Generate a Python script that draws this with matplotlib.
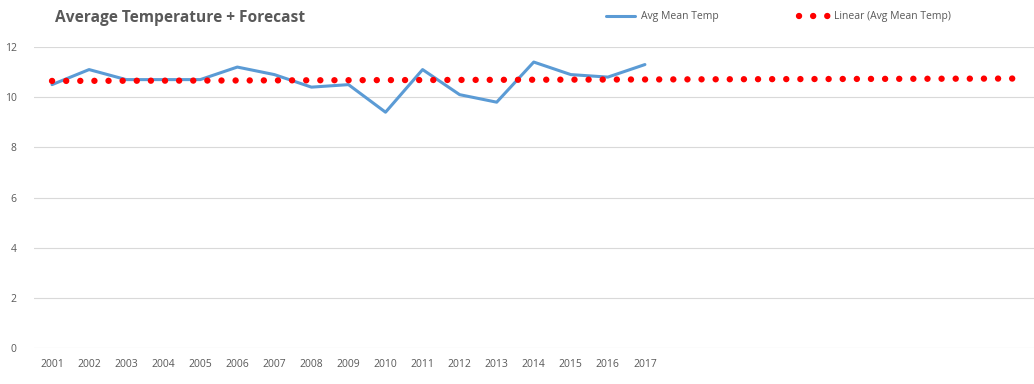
import numpy as np
import matplotlib
matplotlib.use("Agg")
import matplotlib.pyplot as plt

# data
years = ["2001", "2002", "2003", "2004", "2005", "2006", "2007", "2008", "2009",
         "2010", "2011", "2012", "2013", "2014", "2015", "2016", "2017"]
avg_mean_temp = [10.5, 11.1, 10.7, 10.7, 10.7, 11.2, 10.9, 10.4, 10.5,
                 9.4, 11.1, 10.1, 9.8, 11.4, 10.9, 10.8, 11.3]
forecast_periods = 10

grey = "#595959"
plt.rcParams["font.family"] = ["Open Sans", "DejaVu Sans"]

x = np.arange(len(years))
x_trend = np.arange(len(years) + forecast_periods)
slope, icept = np.polyfit(x, avg_mean_temp, 1)
trend = slope * x_trend + icept

fig = plt.figure(figsize=(10.34, 3.84), dpi=100)
ax = fig.add_axes([33.5 / 1034, 36 / 384, 1 - 33.5 / 1034, 301 / 384])

ax.plot(x, avg_mean_temp, color="#5B9BD5", lw=2.2, label="Avg Mean Temp",
        solid_capstyle="round", zorder=3)
ax.plot(x_trend, trend, color="#FF0000", lw=4.6, linestyle=(0, (0.01, 2.2)),
        dash_capstyle="round", label="Linear (Avg Mean Temp)", zorder=4)

ax.set_xlim(-0.5, len(x_trend) - 0.5)
ax.set_ylim(0, 12)
ax.set_yticks(range(0, 13, 2))
ax.set_xticks(x_trend)
ax.set_xticklabels(years + [""] * forecast_periods)
ax.tick_params(length=0, labelsize=7.5, labelcolor=grey)
ax.tick_params(axis="y", pad=12)
ax.tick_params(axis="x", pad=8)
ax.grid(axis="y", color="#D9D9D9", lw=0.8)
ax.set_axisbelow(True)
for s in ax.spines.values():
    s.set_visible(False)

fig.text(55 / 1034, 1 - 18 / 384, "Average Temperature + Forecast", fontsize=11.2,
         fontweight="bold", color=grey, va="center", ha="left")

fig.legend(loc="center left", bbox_to_anchor=(602 / 1034, 1 - 17 / 384), ncol=2,
           frameon=False, fontsize=7.5, labelcolor=grey, handlelength=2.75,
           handletextpad=0.6, columnspacing=7.7, borderaxespad=0)

fig.savefig("out.png", dpi=100)
